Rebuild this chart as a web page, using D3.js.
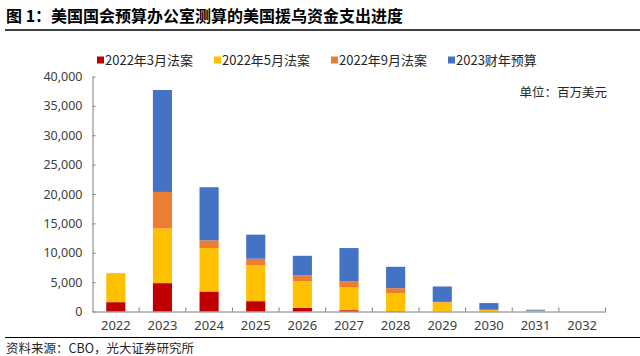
<!DOCTYPE html>
<html><head><meta charset="utf-8">
<script src="https://cdn.jsdelivr.net/npm/d3@7"></script>
<style>
html,body{margin:0;padding:0;background:#fff;}
svg{display:block;font-family:"Noto Sans CJK SC","Noto Sans",sans-serif;}
</style></head>
<body><svg id="c" width="640" height="356"></svg>
<script>
const years = ["2022","2023","2024","2025","2026","2027","2028","2029","2030","2031","2032"];
const seriesNames = ["2022年3月法案","2022年5月法案","2022年9月法案","2023财年预算"];
const mar2022 = [1590, 4830, 3410, 1760, 620, 220, 50, 0, 0, 0, 0];
const may2022 = [4940, 9330, 7390, 6090, 4550, 3930, 3070, 1540, 250, 100, 0];
const sep2022 = [0, 6190, 1310, 1140, 1020, 970, 850, 100, 50, 50, 0];
const fy2023  = [0, 17350, 9040, 4090, 3290, 5680, 3640, 2620, 1130, 150, 0];
const yTicks = [0, 5000, 10000, 15000, 20000, 25000, 30000, 35000, 40000];
const colors = ["#C00000","#FFC000","#ED7D31","#4472C4"];

const svg = d3.select("#c");
const W = 640;
const x0 = 92.5, x1 = 605.5, yBase = 311.5, yTop = 76.5;

// Title
svg.append("text").attr("x",6).attr("y",22).attr("font-size",16).attr("font-weight","bold")
  .attr("fill","#000").text("图 1：美国国会预算办公室测算的美国援乌资金支出进度");
svg.append("line").attr("x1",5).attr("x2",W).attr("y1",30).attr("y2",30)
  .attr("stroke","#000").attr("stroke-width",1.6);

const table = years.map((y,i)=>({year:y, s0:mar2022[i], s1:may2022[i], s2:sep2022[i], s3:fy2023[i]}));
const stack = d3.stack().keys(["s0","s1","s2","s3"])(table);

const x = d3.scaleBand().domain(years).range([x0,x1]).paddingInner(0.59).paddingOuter(0.295);
const y = d3.scaleLinear().domain([0,40000]).range([yBase,yTop]);

// bars
svg.append("g").selectAll("g").data(stack).join("g").attr("fill",(d,i)=>colors[i])
  .selectAll("rect").data(d=>d).join("rect")
  .attr("x",d=>x(d.data.year)).attr("width",x.bandwidth())
  .attr("y",d=>y(d[1])).attr("height",d=>Math.max(0,y(d[0])-y(d[1])));

// y axis
const yAxis = d3.axisLeft(y).tickValues(yTicks).tickSizeInner(-3).tickSizeOuter(0)
  .tickPadding(10).tickFormat(d3.format(","));
const gy = svg.append("g").attr("transform",`translate(${x0},0)`).call(yAxis);
gy.select(".domain").attr("stroke","#7f7f7f");
gy.selectAll(".tick line").attr("stroke","#7f7f7f");
gy.selectAll("text").attr("font-family","'Noto Sans',sans-serif").attr("font-size",12.5).attr("fill","#404040");

// x axis
const xAxis = d3.axisBottom(x).tickSize(0).tickPadding(9);
const gx = svg.append("g").attr("transform",`translate(0,${yBase})`).call(xAxis);
gx.select(".domain").attr("stroke","#7f7f7f");
gx.selectAll("text").attr("font-family","'Noto Sans',sans-serif").attr("font-size",13).attr("fill","#404040");
// boundary ticks (pointing up)
const step = x.step();
gx.selectAll("line.bt").data(years).join("line").attr("class","bt")
  .attr("x1",(d,i)=>x0+(i+1)*step).attr("x2",(d,i)=>x0+(i+1)*step)
  .attr("y1",0).attr("y2",-4).attr("stroke","#7f7f7f");

// legend
const legX = [97, 214, 331, 448];
const lg = svg.append("g").selectAll("g").data(seriesNames).join("g")
  .attr("transform",(d,i)=>`translate(${legX[i]},60)`);
lg.append("rect").attr("x",0).attr("y",-3.5).attr("width",7).attr("height",7).attr("fill",(d,i)=>colors[i]);
lg.append("text").attr("x",8).attr("y",0).attr("dy","0.36em").attr("font-size",13).attr("fill","#262626").text(d=>d);

// unit
svg.append("text").attr("x",607).attr("y",92).attr("dy","0.36em").attr("text-anchor","end")
  .attr("font-size",12.5).attr("fill","#262626").text("单位：百万美元");

// bottom line and source
svg.append("line").attr("x1",5).attr("x2",W).attr("y1",337.5).attr("y2",337.5)
  .attr("stroke","#000").attr("stroke-width",1);
svg.append("text").attr("x",6).attr("y",348).attr("dy","0.36em").attr("font-size",12.5)
  .attr("fill","#262626").text("资料来源：CBO，光大证券研究所");
</script></body></html>
